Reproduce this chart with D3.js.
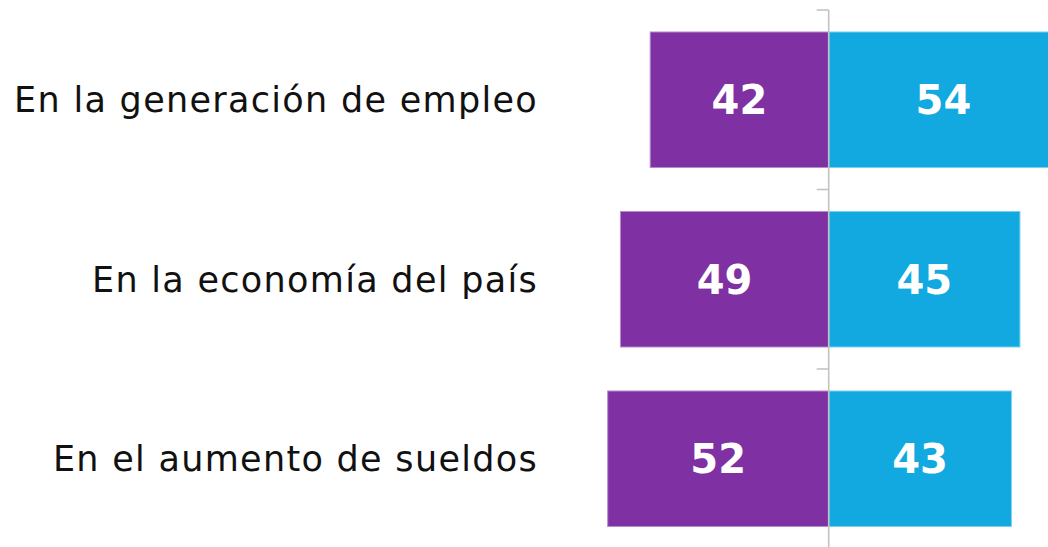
<!DOCTYPE html>
<html>
<head>
<meta charset="utf-8">
<script src="https://cdn.jsdelivr.net/npm/d3@7"></script>
<style>
  html, body { margin: 0; padding: 0; background: #fff; overflow: hidden; }
  svg { display: block; }
</style>
</head>
<body>
<div id="chart"></div>
<script>
// Data
const categories = ['En la generación de empleo', 'En la economía del país', 'En el aumento de sueldos'];
const leftValues = [42, 49, 52];   // purple, drawn to the left
const rightValues = [54, 45, 43];  // blue, drawn to the right

const width = 1048, height = 547;
const center = 828.7;

const svg = d3.select('#chart')
    .append('svg')
    .attr('width', width)
    .attr('height', height);

// Scales
const x = d3.scaleLinear()
    .domain([-55, 55])
    .range([center - 55 * 4.25, center + 55 * 4.25]);

const y = d3.scaleBand()
    .domain(categories)
    .range([10, 548.5])
    .paddingInner(0.245)
    .paddingOuter(0.1225);

const rows = categories.map((c, i) => ({ cat: c, left: leftValues[i], right: rightValues[i] }));

// Purple bars
svg.selectAll('.bar-left')
    .data(rows)
    .enter()
    .append('rect')
    .attr('class', 'bar-left')
    .attr('x', d => x(-d.left))
    .attr('y', d => y(d.cat))
    .attr('width', d => x(0) - x(-d.left))
    .attr('height', y.bandwidth())
    .attr('fill', '#7F30A3')
    .attr('stroke', '#b58ccb')
    .attr('stroke-width', 1);

// Blue bars
svg.selectAll('.bar-right')
    .data(rows)
    .enter()
    .append('rect')
    .attr('class', 'bar-right')
    .attr('x', x(0))
    .attr('y', d => y(d.cat))
    .attr('width', d => x(d.right) - x(0))
    .attr('height', y.bandwidth())
    .attr('fill', '#12A9E0')
    .attr('stroke', '#7fd0ee')
    .attr('stroke-width', 1);

// Centre axis with ticks on band boundaries
const axisG = svg.append('g').attr('class', 'axis');
axisG.append('line')
    .attr('x1', x(0)).attr('x2', x(0))
    .attr('y1', y.range()[0]).attr('y2', y.range()[1])
    .attr('stroke', '#c3c3c3')
    .attr('stroke-width', 1.6);

const boundaries = categories.map(c => y(c) - y.step() * y.paddingInner() / 2);
axisG.selectAll('.tick')
    .data(boundaries)
    .enter()
    .append('line')
    .attr('class', 'tick')
    .attr('x1', x(0) - 12).attr('x2', x(0))
    .attr('y1', d => d).attr('y2', d => d)
    .attr('stroke', '#c3c3c3')
    .attr('stroke-width', 1.6);

// Value labels
const valueFont = '"DejaVu Sans", sans-serif';
svg.selectAll('.val-left')
    .data(rows)
    .enter()
    .append('text')
    .attr('x', d => (x(-d.left) + x(0)) / 2)
    .attr('y', d => y(d.cat) + y.bandwidth() / 2)
    .attr('dy', '0.36em')
    .attr('text-anchor', 'middle')
    .attr('font-family', valueFont)
    .attr('font-weight', 'bold')
    .attr('font-size', 40)
    .attr('fill', '#fff')
    .text(d => d.left);

svg.selectAll('.val-right')
    .data(rows)
    .enter()
    .append('text')
    .attr('x', d => (x(d.right) + x(0)) / 2)
    .attr('y', d => y(d.cat) + y.bandwidth() / 2)
    .attr('dy', '0.36em')
    .attr('text-anchor', 'middle')
    .attr('font-family', valueFont)
    .attr('font-weight', 'bold')
    .attr('font-size', 40)
    .attr('fill', '#fff')
    .text(d => d.right);

// Category labels
svg.selectAll('.cat-label')
    .data(rows)
    .enter()
    .append('text')
    .attr('class', 'cat-label')
    .attr('x', 538)
    .attr('y', d => y(d.cat) + y.bandwidth() / 2)
    .attr('dy', '0.36em')
    .attr('text-anchor', 'end')
    .attr('font-family', '"DejaVu Sans", sans-serif')
    .attr('font-size', 35)
    .attr('letter-spacing', 1.3)
    .attr('fill', '#111')
    .text(d => d.cat);
</script>
</body>
</html>
